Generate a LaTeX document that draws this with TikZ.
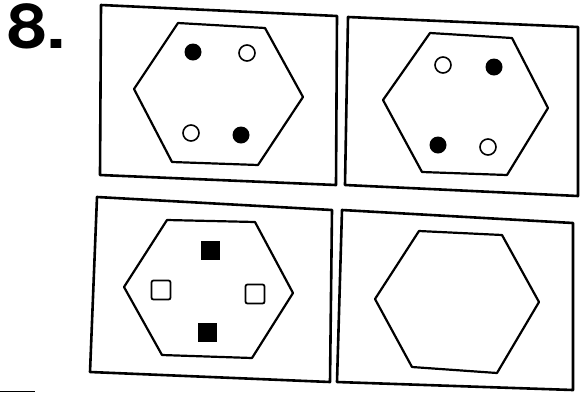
\documentclass[tikz,border=0pt]{standalone}
\usepackage{fontspec}
\setmainfont{TeX Gyre Heros}
\begin{document}
\begin{tikzpicture}[x=1pt,y=-1pt,
  frame/.style={line width=2.6pt,line join=round},
  hexa/.style={line width=2.2pt,line join=round},
  dotopen/.style={circle,draw,line width=1.6pt,minimum size=16pt,inner sep=0pt},
  dotfull/.style={circle,fill,minimum size=17pt,inner sep=0pt},
  sqopen/.style={rectangle,draw,line width=1.8pt,minimum size=19pt,inner sep=0pt,rounded corners=2pt},
  sqfull/.style={rectangle,fill,minimum size=19pt,inner sep=0pt},
  label/.style={inner sep=0pt,anchor=north west,font=\bfseries\fontsize{62}{62}\selectfont}]
\useasboundingbox (0,0) rectangle (581,392);
% label
\node[label,xscale=1.15] (num) at (7,3) {8.};
% panel 1
\draw[frame] (101,5) -- (337,16) -- (336,185) -- (100,175) -- cycle;
\draw[hexa] (178,23) -- (265,28) -- (303,97) -- (258,165) -- (172,162) -- (134,89) -- cycle;
\node[dotfull] (p1a) at (193,52) {};
\node[dotopen] (p1b) at (247,53) {};
\node[dotopen] (p1c) at (191,133) {};
\node[dotfull] (p1d) at (241,135) {};
% panel 2
\draw[frame] (348,17) -- (578,27) -- (578,196) -- (345,185) -- cycle;
\draw[hexa] (430,33) -- (512,38) -- (548,108) -- (507,175) -- (422,172) -- (383,100) -- cycle;
\node[dotopen] (p2a) at (443,65) {};
\node[dotfull] (p2b) at (494,67) {};
\node[dotfull] (p2c) at (438,145) {};
\node[dotopen] (p2d) at (488,147) {};
% panel 3
\draw[frame] (97,197) -- (332,210) -- (330,382) -- (90,372) -- cycle;
\draw[hexa] (167,220) -- (255,222) -- (293,293) -- (252,358) -- (162,355) -- (124,287) -- cycle;
\node[sqfull] (p3a) at (210,250) {};
\node[sqopen] (p3b) at (161,290) {};
\node[sqopen] (p3c) at (255,294) {};
\node[sqfull] (p3d) at (207,332) {};
% panel 4
\draw[frame] (342,210) -- (573,223) -- (573,390) -- (337,382) -- cycle;
\draw[hexa] (419,231) -- (502,235) -- (539,302) -- (497,373) -- (412,367) -- (375,299) -- cycle;
% scan mark
\coordinate (m1) at (0,391);
\coordinate (m2) at (35,391);
\draw[line width=1pt] (m1) -- (m2);
\end{tikzpicture}
\end{document}
